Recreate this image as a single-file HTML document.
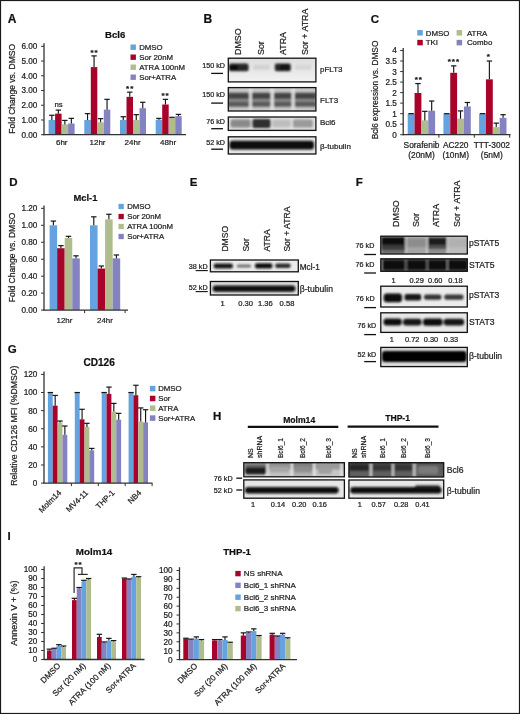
<!DOCTYPE html>
<html><head><meta charset="utf-8"><title>Figure</title>
<style>text{stroke:#1c1c1c;stroke-width:.22px}html,body{margin:0;padding:0;background:#fff;width:520px;height:714px;overflow:hidden}svg{display:block}</style>
</head><body>
<svg width="520" height="714" viewBox="0 0 520 714" font-family='"Liberation Sans", Arial, Helvetica, sans-serif'>
<defs><filter id="bl1" x="-20%" y="-50%" width="140%" height="200%"><feGaussianBlur stdDeviation="0.8"/></filter><filter id="bl2" x="-20%" y="-50%" width="140%" height="200%"><feGaussianBlur stdDeviation="1.4"/></filter></defs>
<rect x="0" y="0" width="520" height="714" fill="#fff"/>
<text x="7.8" y="23" font-size="12" text-anchor="start" font-weight="bold" fill="#111">A</text>
<text x="115.2" y="37.7" font-size="9.6" text-anchor="middle" font-weight="bold" fill="#111">Bcl6</text>
<text x="14.8" y="88.8" font-size="8.5" text-anchor="middle" fill="#222" transform="rotate(-90 14.8 88.8)">Fold Change vs. DMSO</text>
<line x1="44" y1="43.2" x2="44" y2="135.2" stroke="#333" stroke-width="1.3"/>
<line x1="41" y1="134.7" x2="44" y2="134.7" stroke="#333" stroke-width="1"/>
<text x="37.4" y="137.65" font-size="8.2" text-anchor="end" fill="#222">0.00</text>
<line x1="41" y1="119.97" x2="44" y2="119.97" stroke="#333" stroke-width="1"/>
<text x="37.4" y="122.92" font-size="8.2" text-anchor="end" fill="#222">1.00</text>
<line x1="41" y1="105.24" x2="44" y2="105.24" stroke="#333" stroke-width="1"/>
<text x="37.4" y="108.19" font-size="8.2" text-anchor="end" fill="#222">2.00</text>
<line x1="41" y1="90.51" x2="44" y2="90.51" stroke="#333" stroke-width="1"/>
<text x="37.4" y="93.46" font-size="8.2" text-anchor="end" fill="#222">3.00</text>
<line x1="41" y1="75.78" x2="44" y2="75.78" stroke="#333" stroke-width="1"/>
<text x="37.4" y="78.73" font-size="8.2" text-anchor="end" fill="#222">4.00</text>
<line x1="41" y1="61.05" x2="44" y2="61.05" stroke="#333" stroke-width="1"/>
<text x="37.4" y="64" font-size="8.2" text-anchor="end" fill="#222">5.00</text>
<line x1="41" y1="46.32" x2="44" y2="46.32" stroke="#333" stroke-width="1"/>
<text x="37.4" y="49.27" font-size="8.2" text-anchor="end" fill="#222">6.00</text>
<rect x="48.6" y="119.97" width="6.5" height="14.73" fill="#64a2e0"/>
<rect x="55.1" y="113.64" width="6.5" height="21.06" fill="#a8042b"/>
<rect x="61.6" y="124.39" width="6.5" height="10.31" fill="#afbd8e"/>
<rect x="68.1" y="123.51" width="6.5" height="11.19" fill="#8582c2"/>
<rect x="84.3" y="119.97" width="6.5" height="14.73" fill="#64a2e0"/>
<rect x="90.8" y="67.09" width="6.5" height="67.61" fill="#a8042b"/>
<rect x="97.3" y="122.33" width="6.5" height="12.37" fill="#afbd8e"/>
<rect x="103.8" y="109.66" width="6.5" height="25.04" fill="#8582c2"/>
<rect x="120" y="119.97" width="6.5" height="14.73" fill="#64a2e0"/>
<rect x="126.5" y="96.84" width="6.5" height="37.86" fill="#a8042b"/>
<rect x="133" y="119.97" width="6.5" height="14.73" fill="#afbd8e"/>
<rect x="139.5" y="108.19" width="6.5" height="26.51" fill="#8582c2"/>
<rect x="155.7" y="119.68" width="6.5" height="15.02" fill="#64a2e0"/>
<rect x="162.2" y="104.5" width="6.5" height="30.2" fill="#a8042b"/>
<rect x="168.7" y="117.32" width="6.5" height="17.38" fill="#afbd8e"/>
<rect x="175.2" y="116.14" width="6.5" height="18.56" fill="#8582c2"/>
<line x1="51.85" y1="119.97" x2="51.85" y2="115.26" stroke="#161618" stroke-width="1.15"/>
<line x1="49.15" y1="115.26" x2="54.55" y2="115.26" stroke="#161618" stroke-width="1.2"/>
<line x1="58.35" y1="113.64" x2="58.35" y2="110.1" stroke="#161618" stroke-width="1.15"/>
<line x1="55.65" y1="110.1" x2="61.05" y2="110.1" stroke="#161618" stroke-width="1.2"/>
<line x1="64.85" y1="124.39" x2="64.85" y2="120.41" stroke="#161618" stroke-width="1.15"/>
<line x1="62.15" y1="120.41" x2="67.55" y2="120.41" stroke="#161618" stroke-width="1.2"/>
<line x1="71.35" y1="123.51" x2="71.35" y2="118.35" stroke="#161618" stroke-width="1.15"/>
<line x1="68.65" y1="118.35" x2="74.05" y2="118.35" stroke="#161618" stroke-width="1.2"/>
<line x1="87.55" y1="119.97" x2="87.55" y2="113.64" stroke="#161618" stroke-width="1.15"/>
<line x1="84.85" y1="113.64" x2="90.25" y2="113.64" stroke="#161618" stroke-width="1.2"/>
<line x1="94.05" y1="67.09" x2="94.05" y2="55.89" stroke="#161618" stroke-width="1.15"/>
<line x1="91.35" y1="55.89" x2="96.75" y2="55.89" stroke="#161618" stroke-width="1.2"/>
<line x1="100.55" y1="122.33" x2="100.55" y2="118.64" stroke="#161618" stroke-width="1.15"/>
<line x1="97.85" y1="118.64" x2="103.25" y2="118.64" stroke="#161618" stroke-width="1.2"/>
<line x1="107.05" y1="109.66" x2="107.05" y2="99.35" stroke="#161618" stroke-width="1.15"/>
<line x1="104.35" y1="99.35" x2="109.75" y2="99.35" stroke="#161618" stroke-width="1.2"/>
<line x1="123.25" y1="119.97" x2="123.25" y2="116.73" stroke="#161618" stroke-width="1.15"/>
<line x1="120.55" y1="116.73" x2="125.95" y2="116.73" stroke="#161618" stroke-width="1.2"/>
<line x1="129.75" y1="96.84" x2="129.75" y2="92.13" stroke="#161618" stroke-width="1.15"/>
<line x1="127.05" y1="92.13" x2="132.45" y2="92.13" stroke="#161618" stroke-width="1.2"/>
<line x1="136.25" y1="119.97" x2="136.25" y2="114.67" stroke="#161618" stroke-width="1.15"/>
<line x1="133.55" y1="114.67" x2="138.95" y2="114.67" stroke="#161618" stroke-width="1.2"/>
<line x1="142.75" y1="108.19" x2="142.75" y2="102.29" stroke="#161618" stroke-width="1.15"/>
<line x1="140.05" y1="102.29" x2="145.45" y2="102.29" stroke="#161618" stroke-width="1.2"/>
<line x1="158.95" y1="119.68" x2="158.95" y2="118.35" stroke="#161618" stroke-width="1.15"/>
<line x1="156.25" y1="118.35" x2="161.65" y2="118.35" stroke="#161618" stroke-width="1.2"/>
<line x1="165.45" y1="104.5" x2="165.45" y2="99.35" stroke="#161618" stroke-width="1.15"/>
<line x1="162.75" y1="99.35" x2="168.15" y2="99.35" stroke="#161618" stroke-width="1.2"/>
<line x1="169.25" y1="117.32" x2="174.65" y2="117.32" stroke="#161618" stroke-width="1.2"/>
<line x1="178.45" y1="116.14" x2="178.45" y2="114.37" stroke="#161618" stroke-width="1.15"/>
<line x1="175.75" y1="114.37" x2="181.15" y2="114.37" stroke="#161618" stroke-width="1.2"/>
<line x1="43.4" y1="134.7" x2="186" y2="134.7" stroke="#333" stroke-width="1.3"/>
<text x="58.6" y="106.5" font-size="7.8" text-anchor="middle" fill="#222">ns</text>
<text x="94.5" y="54.8" font-size="8" font-weight="bold" text-anchor="middle" letter-spacing="1" fill="#111">**</text>
<text x="130.2" y="90.9" font-size="8" font-weight="bold" text-anchor="middle" letter-spacing="1" fill="#111">**</text>
<text x="165.5" y="97.7" font-size="8" font-weight="bold" text-anchor="middle" letter-spacing="1" fill="#111">**</text>
<text x="61.75" y="145" font-size="8" text-anchor="middle" fill="#222">6hr</text>
<text x="97.5" y="145" font-size="8" text-anchor="middle" fill="#222">12hr</text>
<text x="132.6" y="145" font-size="8" text-anchor="middle" fill="#222">24hr</text>
<text x="168.1" y="145" font-size="8" text-anchor="middle" fill="#222">48hr</text>
<rect x="130.5" y="44.5" width="5.4" height="5.4" fill="#64a2e0"/>
<text x="139.2" y="50.01" font-size="7.8" text-anchor="start" fill="#222">DMSO</text>
<rect x="130.5" y="54.5" width="5.4" height="5.4" fill="#a8042b"/>
<text x="139.2" y="60.01" font-size="7.8" text-anchor="start" fill="#222">Sor 20nM</text>
<rect x="130.5" y="64.5" width="5.4" height="5.4" fill="#afbd8e"/>
<text x="139.2" y="70.01" font-size="7.8" text-anchor="start" fill="#222">ATRA 100nM</text>
<rect x="130.5" y="74.5" width="5.4" height="5.4" fill="#8582c2"/>
<text x="139.2" y="80.01" font-size="7.8" text-anchor="start" fill="#222">Sor+ATRA</text>
<text x="203.4" y="23" font-size="12" text-anchor="start" font-weight="bold" fill="#111">B</text>
<text x="241.2" y="55" font-size="8.9" text-anchor="start" fill="#222" transform="rotate(-90 241.2 55)">DMSO</text>
<text x="263.5" y="55" font-size="8.9" text-anchor="start" fill="#222" transform="rotate(-90 263.5 55)">Sor</text>
<text x="286" y="55" font-size="8.9" text-anchor="start" fill="#222" transform="rotate(-90 286 55)">ATRA</text>
<text x="307.5" y="55" font-size="8.9" text-anchor="start" fill="#222" transform="rotate(-90 307.5 55)">Sor + ATRA</text>
<clipPath id="c1"><rect x="228.3" y="58.2" width="87.6" height="23.7"/></clipPath>
<g clip-path="url(#c1)">
<linearGradient id="g1" x1="0" y1="0" x2="0" y2="1"><stop offset="0" stop-color="#dedede"/><stop offset="0.45" stop-color="#e6e6e6"/><stop offset="1" stop-color="#f2f2f2"/></linearGradient>
<rect x="228.3" y="58.2" width="87.6" height="23.7" fill="url(#g1)"/>
<g filter="url(#bl1)">
<rect x="229" y="63.6" width="19.5" height="7.6" rx="2" fill="#262626"/>
<rect x="229" y="64.5" width="9" height="5.5" rx="2" fill="#101010"/>
<rect x="253" y="64.8" width="17" height="5" rx="2" fill="#d2d2d2"/>
<rect x="274.8" y="63.6" width="16" height="7.6" rx="2" fill="#262626"/>
<rect x="280" y="64.5" width="9" height="5.5" rx="2" fill="#141414"/>
<rect x="295" y="64.8" width="16.5" height="5" rx="2" fill="#d6d6d6"/>
</g></g>
<rect x="228.3" y="58.2" width="87.6" height="23.7" fill="none" stroke="#111" stroke-width="1.3"/>
<clipPath id="c2"><rect x="228.3" y="87.6" width="87.6" height="23.4"/></clipPath>
<g clip-path="url(#c2)">
<rect x="228.3" y="87.6" width="87.6" height="23.4" fill="#c6c6c6"/>
<g filter="url(#bl1)">
<rect x="228" y="92.8" width="88" height="6.6" rx="1" fill="#444444"/>
<rect x="228" y="101.2" width="88" height="5.6" rx="1" fill="#5a5a5a"/>
<rect x="228" y="99" width="88" height="2.5" rx="0" fill="#8a8a8a"/>
<rect x="249.2" y="87.6" width="2.6" height="23.4" fill="#e2e2e2"/>
<rect x="270.6" y="87.6" width="3.2" height="23.4" fill="#e2e2e2"/>
<rect x="291.6" y="87.6" width="3" height="23.4" fill="#e2e2e2"/>
</g></g>
<rect x="228.3" y="87.6" width="87.6" height="23.4" fill="none" stroke="#111" stroke-width="1.3"/>
<clipPath id="c3"><rect x="228.3" y="117" width="87.6" height="13.4"/></clipPath>
<g clip-path="url(#c3)">
<rect x="228.3" y="117" width="87.6" height="13.4" fill="#dedede"/>
<g filter="url(#bl1)">
<rect x="230.5" y="119.4" width="20.1" height="8.2" rx="2" fill="#8a8a8a"/>
<rect x="252.4" y="119" width="18.2" height="9" rx="2" fill="#2e2e2e"/>
<rect x="272.2" y="119.8" width="18.6" height="7.4" rx="2" fill="#bdbdbd"/>
<rect x="293" y="119.4" width="19.8" height="8.2" rx="2" fill="#9a9a9a"/>
</g></g>
<rect x="228.3" y="117" width="87.6" height="13.4" fill="none" stroke="#111" stroke-width="1.3"/>
<clipPath id="c4"><rect x="228.3" y="136.8" width="87.6" height="17.2"/></clipPath>
<g clip-path="url(#c4)">
<rect x="228.3" y="136.8" width="87.6" height="17.2" fill="#e6e6e6"/>
<g filter="url(#bl1)">
<rect x="229.5" y="140.8" width="84.5" height="8.8" rx="3" fill="#0a0a0a"/>
</g></g>
<rect x="228.3" y="136.8" width="87.6" height="17.2" fill="none" stroke="#111" stroke-width="1.3"/>
<text x="225" y="67.6" font-size="7.2" text-anchor="end" fill="#222">150 kD</text>
<line x1="211.2" y1="73.4" x2="223" y2="73.4" stroke="#111" stroke-width="1.3"/>
<text x="225" y="97.3" font-size="7.2" text-anchor="end" fill="#222">150 kD</text>
<line x1="211.2" y1="103.1" x2="223" y2="103.1" stroke="#111" stroke-width="1.3"/>
<text x="225" y="123.7" font-size="7.2" text-anchor="end" fill="#222">76 kD</text>
<line x1="211.2" y1="128.7" x2="223" y2="128.7" stroke="#111" stroke-width="1.3"/>
<text x="225" y="144.6" font-size="7.2" text-anchor="end" fill="#222">52 kD</text>
<line x1="211.2" y1="149.2" x2="223" y2="149.2" stroke="#111" stroke-width="1.3"/>
<text x="320" y="71.9" font-size="8" text-anchor="start" fill="#222">pFLT3</text>
<text x="320" y="102.7" font-size="8" text-anchor="start" fill="#222">FLT3</text>
<text x="320" y="125.4" font-size="8" text-anchor="start" fill="#222">Bcl6</text>
<text x="320" y="148.8" font-size="8" text-anchor="start" fill="#222">β-tubulin</text>
<text x="370.7" y="23" font-size="11.5" text-anchor="start" font-weight="bold" fill="#111">C</text>
<text x="378.2" y="90" font-size="8.3" text-anchor="middle" fill="#222" transform="rotate(-90 378.2 90)">Bcl6 expression vs. DMSO</text>
<line x1="403.2" y1="47.9" x2="403.2" y2="135.2" stroke="#333" stroke-width="1.3"/>
<line x1="400.2" y1="134.7" x2="403.2" y2="134.7" stroke="#333" stroke-width="1"/>
<text x="396.9" y="137.65" font-size="8.2" text-anchor="end" fill="#222">0</text>
<line x1="400.2" y1="124.17" x2="403.2" y2="124.17" stroke="#333" stroke-width="1"/>
<text x="396.9" y="127.13" font-size="8.2" text-anchor="end" fill="#222">0.5</text>
<line x1="400.2" y1="113.65" x2="403.2" y2="113.65" stroke="#333" stroke-width="1"/>
<text x="396.9" y="116.6" font-size="8.2" text-anchor="end" fill="#222">1</text>
<line x1="400.2" y1="103.12" x2="403.2" y2="103.12" stroke="#333" stroke-width="1"/>
<text x="396.9" y="106.08" font-size="8.2" text-anchor="end" fill="#222">1.5</text>
<line x1="400.2" y1="92.6" x2="403.2" y2="92.6" stroke="#333" stroke-width="1"/>
<text x="396.9" y="95.55" font-size="8.2" text-anchor="end" fill="#222">2</text>
<line x1="400.2" y1="82.07" x2="403.2" y2="82.07" stroke="#333" stroke-width="1"/>
<text x="396.9" y="85.03" font-size="8.2" text-anchor="end" fill="#222">2.5</text>
<line x1="400.2" y1="71.55" x2="403.2" y2="71.55" stroke="#333" stroke-width="1"/>
<text x="396.9" y="74.5" font-size="8.2" text-anchor="end" fill="#222">3</text>
<line x1="400.2" y1="61.02" x2="403.2" y2="61.02" stroke="#333" stroke-width="1"/>
<text x="396.9" y="63.98" font-size="8.2" text-anchor="end" fill="#222">3.5</text>
<line x1="400.2" y1="50.5" x2="403.2" y2="50.5" stroke="#333" stroke-width="1"/>
<text x="396.9" y="53.45" font-size="8.2" text-anchor="end" fill="#222">4</text>
<rect x="407.7" y="113.65" width="6.85" height="21.05" fill="#64a2e0"/>
<rect x="414.55" y="93.02" width="6.85" height="41.68" fill="#a8042b"/>
<rect x="421.4" y="120.39" width="6.85" height="14.31" fill="#afbd8e"/>
<rect x="428.25" y="110.7" width="6.85" height="24" fill="#8582c2"/>
<rect x="443.4" y="113.65" width="6.85" height="21.05" fill="#64a2e0"/>
<rect x="450.25" y="72.81" width="6.85" height="61.89" fill="#a8042b"/>
<rect x="457.1" y="118.7" width="6.85" height="16" fill="#afbd8e"/>
<rect x="463.95" y="106.49" width="6.85" height="28.21" fill="#8582c2"/>
<rect x="479.1" y="113.65" width="6.85" height="21.05" fill="#64a2e0"/>
<rect x="485.95" y="79.34" width="6.85" height="55.36" fill="#a8042b"/>
<rect x="492.8" y="127.12" width="6.85" height="7.58" fill="#afbd8e"/>
<rect x="499.65" y="117.86" width="6.85" height="16.84" fill="#8582c2"/>
<line x1="408.43" y1="113.65" x2="413.82" y2="113.65" stroke="#161618" stroke-width="1.2"/>
<line x1="417.98" y1="93.02" x2="417.98" y2="83.55" stroke="#161618" stroke-width="1.15"/>
<line x1="415.28" y1="83.55" x2="420.68" y2="83.55" stroke="#161618" stroke-width="1.2"/>
<line x1="424.82" y1="120.39" x2="424.82" y2="111.33" stroke="#161618" stroke-width="1.15"/>
<line x1="422.12" y1="111.33" x2="427.52" y2="111.33" stroke="#161618" stroke-width="1.2"/>
<line x1="431.68" y1="110.7" x2="431.68" y2="101.02" stroke="#161618" stroke-width="1.15"/>
<line x1="428.98" y1="101.02" x2="434.38" y2="101.02" stroke="#161618" stroke-width="1.2"/>
<line x1="444.12" y1="113.65" x2="449.52" y2="113.65" stroke="#161618" stroke-width="1.2"/>
<line x1="453.68" y1="72.81" x2="453.68" y2="65.87" stroke="#161618" stroke-width="1.15"/>
<line x1="450.98" y1="65.87" x2="456.38" y2="65.87" stroke="#161618" stroke-width="1.2"/>
<line x1="460.52" y1="118.7" x2="460.52" y2="110.91" stroke="#161618" stroke-width="1.15"/>
<line x1="457.82" y1="110.91" x2="463.22" y2="110.91" stroke="#161618" stroke-width="1.2"/>
<line x1="467.38" y1="106.49" x2="467.38" y2="102.49" stroke="#161618" stroke-width="1.15"/>
<line x1="464.68" y1="102.49" x2="470.07" y2="102.49" stroke="#161618" stroke-width="1.2"/>
<line x1="479.83" y1="113.65" x2="485.23" y2="113.65" stroke="#161618" stroke-width="1.2"/>
<line x1="489.38" y1="79.34" x2="489.38" y2="61.02" stroke="#161618" stroke-width="1.15"/>
<line x1="486.68" y1="61.02" x2="492.08" y2="61.02" stroke="#161618" stroke-width="1.2"/>
<line x1="496.23" y1="127.12" x2="496.23" y2="123.12" stroke="#161618" stroke-width="1.15"/>
<line x1="493.53" y1="123.12" x2="498.93" y2="123.12" stroke="#161618" stroke-width="1.2"/>
<line x1="503.08" y1="117.86" x2="503.08" y2="114.7" stroke="#161618" stroke-width="1.15"/>
<line x1="500.38" y1="114.7" x2="505.78" y2="114.7" stroke="#161618" stroke-width="1.2"/>
<line x1="402.6" y1="134.7" x2="510.5" y2="134.7" stroke="#333" stroke-width="1.3"/>
<line x1="438.9" y1="134.7" x2="438.9" y2="137.7" stroke="#333" stroke-width="1"/>
<line x1="474.3" y1="134.7" x2="474.3" y2="137.7" stroke="#333" stroke-width="1"/>
<line x1="509.7" y1="134.7" x2="509.7" y2="137.7" stroke="#333" stroke-width="1"/>
<text x="418.8" y="81.7" font-size="8" font-weight="bold" text-anchor="middle" letter-spacing="1" fill="#111">**</text>
<text x="453.9" y="64" font-size="8" font-weight="bold" text-anchor="middle" letter-spacing="1" fill="#111">***</text>
<text x="488.9" y="58.9" font-size="8" font-weight="bold" text-anchor="middle" letter-spacing="1" fill="#111">*</text>
<text x="421.5" y="148.2" font-size="8.4" text-anchor="middle" fill="#222">Sorafenib</text>
<text x="421.5" y="158.4" font-size="8.4" text-anchor="middle" fill="#222">(20nM)</text>
<text x="455.7" y="148.2" font-size="8.4" text-anchor="middle" fill="#222">AC220</text>
<text x="455.7" y="158.4" font-size="8.4" text-anchor="middle" fill="#222">(10nM)</text>
<text x="491.8" y="148.2" font-size="8.4" text-anchor="middle" fill="#222">TTT-3002</text>
<text x="491.8" y="158.4" font-size="8.4" text-anchor="middle" fill="#222">(5nM)</text>
<rect x="417.3" y="30.05" width="5.5" height="5.5" fill="#64a2e0"/>
<text x="425.7" y="35.64" font-size="7.9" text-anchor="start" fill="#222">DMSO</text>
<rect x="417.3" y="39.85" width="5.5" height="5.5" fill="#a8042b"/>
<text x="425.7" y="45.44" font-size="7.9" text-anchor="start" fill="#222">TKI</text>
<rect x="456.6" y="30.05" width="5.5" height="5.5" fill="#afbd8e"/>
<text x="466.9" y="35.64" font-size="7.9" text-anchor="start" fill="#222">ATRA</text>
<rect x="456.6" y="39.85" width="5.5" height="5.5" fill="#8582c2"/>
<text x="466.9" y="45.44" font-size="7.9" text-anchor="start" fill="#222">Combo</text>
<text x="9.3" y="186.4" font-size="11.5" text-anchor="start" font-weight="bold" fill="#111">D</text>
<text x="85.4" y="200.7" font-size="9.4" text-anchor="middle" font-weight="bold" fill="#111">Mcl-1</text>
<text x="14.8" y="257.4" font-size="8.5" text-anchor="middle" fill="#222" transform="rotate(-90 14.8 257.4)">Fold Change vs. DMSO</text>
<line x1="44" y1="205.6" x2="44" y2="310.6" stroke="#333" stroke-width="1.3"/>
<line x1="41" y1="310.1" x2="44" y2="310.1" stroke="#333" stroke-width="1"/>
<text x="37.4" y="313.05" font-size="8.2" text-anchor="end" fill="#222">0.00</text>
<line x1="41" y1="293.14" x2="44" y2="293.14" stroke="#333" stroke-width="1"/>
<text x="37.4" y="296.09" font-size="8.2" text-anchor="end" fill="#222">0.20</text>
<line x1="41" y1="276.18" x2="44" y2="276.18" stroke="#333" stroke-width="1"/>
<text x="37.4" y="279.13" font-size="8.2" text-anchor="end" fill="#222">0.40</text>
<line x1="41" y1="259.22" x2="44" y2="259.22" stroke="#333" stroke-width="1"/>
<text x="37.4" y="262.17" font-size="8.2" text-anchor="end" fill="#222">0.60</text>
<line x1="41" y1="242.26" x2="44" y2="242.26" stroke="#333" stroke-width="1"/>
<text x="37.4" y="245.21" font-size="8.2" text-anchor="end" fill="#222">0.80</text>
<line x1="41" y1="225.3" x2="44" y2="225.3" stroke="#333" stroke-width="1"/>
<text x="37.4" y="228.25" font-size="8.2" text-anchor="end" fill="#222">1.00</text>
<line x1="41" y1="208.34" x2="44" y2="208.34" stroke="#333" stroke-width="1"/>
<text x="37.4" y="211.29" font-size="8.2" text-anchor="end" fill="#222">1.20</text>
<rect x="49.6" y="225.3" width="7.55" height="84.8" fill="#64a2e0"/>
<rect x="57.15" y="248.2" width="7.55" height="61.9" fill="#a8042b"/>
<rect x="64.7" y="238.02" width="7.55" height="72.08" fill="#afbd8e"/>
<rect x="72.25" y="258.37" width="7.55" height="51.73" fill="#8582c2"/>
<rect x="90" y="225.3" width="7.55" height="84.8" fill="#64a2e0"/>
<rect x="97.55" y="268.55" width="7.55" height="41.55" fill="#a8042b"/>
<rect x="105.1" y="219.36" width="7.55" height="90.74" fill="#afbd8e"/>
<rect x="112.65" y="258.37" width="7.55" height="51.73" fill="#8582c2"/>
<line x1="53.38" y1="225.3" x2="53.38" y2="221.06" stroke="#161618" stroke-width="1.15"/>
<line x1="50.67" y1="221.06" x2="56.08" y2="221.06" stroke="#161618" stroke-width="1.2"/>
<line x1="60.92" y1="248.2" x2="60.92" y2="245.65" stroke="#161618" stroke-width="1.15"/>
<line x1="58.22" y1="245.65" x2="63.62" y2="245.65" stroke="#161618" stroke-width="1.2"/>
<line x1="68.48" y1="238.02" x2="68.48" y2="236.32" stroke="#161618" stroke-width="1.15"/>
<line x1="65.78" y1="236.32" x2="71.18" y2="236.32" stroke="#161618" stroke-width="1.2"/>
<line x1="76.03" y1="258.37" x2="76.03" y2="255.83" stroke="#161618" stroke-width="1.15"/>
<line x1="73.33" y1="255.83" x2="78.73" y2="255.83" stroke="#161618" stroke-width="1.2"/>
<line x1="93.78" y1="225.3" x2="93.78" y2="216.82" stroke="#161618" stroke-width="1.15"/>
<line x1="91.08" y1="216.82" x2="96.48" y2="216.82" stroke="#161618" stroke-width="1.2"/>
<line x1="101.33" y1="268.55" x2="101.33" y2="266" stroke="#161618" stroke-width="1.15"/>
<line x1="98.62" y1="266" x2="104.03" y2="266" stroke="#161618" stroke-width="1.2"/>
<line x1="108.88" y1="219.36" x2="108.88" y2="214.28" stroke="#161618" stroke-width="1.15"/>
<line x1="106.17" y1="214.28" x2="111.58" y2="214.28" stroke="#161618" stroke-width="1.2"/>
<line x1="116.43" y1="258.37" x2="116.43" y2="254.98" stroke="#161618" stroke-width="1.15"/>
<line x1="113.73" y1="254.98" x2="119.13" y2="254.98" stroke="#161618" stroke-width="1.2"/>
<line x1="43.4" y1="310.1" x2="128" y2="310.1" stroke="#333" stroke-width="1.3"/>
<line x1="84.6" y1="310.1" x2="84.6" y2="313.1" stroke="#333" stroke-width="1"/>
<line x1="125.1" y1="310.1" x2="125.1" y2="313.1" stroke="#333" stroke-width="1"/>
<text x="64.4" y="323.4" font-size="7.9" text-anchor="middle" fill="#222">12hr</text>
<text x="105" y="323.4" font-size="7.9" text-anchor="middle" fill="#222">24hr</text>
<rect x="118.5" y="203.85" width="5.3" height="5.3" fill="#64a2e0"/>
<text x="127.2" y="209.31" font-size="7.8" text-anchor="start" fill="#222">DMSO</text>
<rect x="118.5" y="213.85" width="5.3" height="5.3" fill="#a8042b"/>
<text x="127.2" y="219.31" font-size="7.8" text-anchor="start" fill="#222">Sor 20nM</text>
<rect x="118.5" y="223.85" width="5.3" height="5.3" fill="#afbd8e"/>
<text x="127.2" y="229.31" font-size="7.8" text-anchor="start" fill="#222">ATRA 100nM</text>
<rect x="118.5" y="233.85" width="5.3" height="5.3" fill="#8582c2"/>
<text x="127.2" y="239.31" font-size="7.8" text-anchor="start" fill="#222">Sor+ATRA</text>
<text x="189.8" y="185.5" font-size="11.5" text-anchor="start" font-weight="bold" fill="#111">E</text>
<text x="228.2" y="251.6" font-size="8.6" text-anchor="start" fill="#222" transform="rotate(-90 228.2 251.6)">DMSO</text>
<text x="248.9" y="251.6" font-size="8.6" text-anchor="start" fill="#222" transform="rotate(-90 248.9 251.6)">Sor</text>
<text x="269.7" y="251.6" font-size="8.6" text-anchor="start" fill="#222" transform="rotate(-90 269.7 251.6)">ATRA</text>
<text x="290.4" y="251.6" font-size="8.6" text-anchor="start" fill="#222" transform="rotate(-90 290.4 251.6)">Sor + ATRA</text>
<clipPath id="c5"><rect x="210.4" y="260" width="87.9" height="11.8"/></clipPath>
<g clip-path="url(#c5)">
<rect x="210.4" y="260" width="87.9" height="11.8" fill="#ebebeb"/>
<g filter="url(#bl1)">
<rect x="213.7" y="263.4" width="19.2" height="5" rx="2" fill="#151515"/>
<rect x="236.7" y="264.4" width="14.5" height="3" rx="2" fill="#6e6e6e"/>
<rect x="255" y="263.2" width="17.3" height="5.2" rx="2" fill="#101010"/>
<rect x="275.2" y="263.5" width="15.4" height="4.6" rx="2" fill="#2c2c2c"/>
</g></g>
<rect x="210.4" y="260" width="87.9" height="11.8" fill="none" stroke="#111" stroke-width="1.3"/>
<clipPath id="c6"><rect x="210.4" y="281.5" width="87.9" height="13.5"/></clipPath>
<g clip-path="url(#c6)">
<rect x="210.4" y="281.5" width="87.9" height="13.5" fill="#e0e0e0"/>
<g filter="url(#bl1)">
<rect x="212.7" y="285.5" width="82.7" height="6.2" rx="3" fill="#080808"/>
</g></g>
<rect x="210.4" y="281.5" width="87.9" height="13.5" fill="none" stroke="#111" stroke-width="1.3"/>
<text x="207.6" y="268.5" font-size="7.2" text-anchor="end" fill="#222">38 kD</text>
<text x="207.6" y="289.9" font-size="7.2" text-anchor="end" fill="#222">52 kD</text>
<line x1="195.6" y1="270.6" x2="207.8" y2="270.6" stroke="#111" stroke-width="1.1"/>
<line x1="195.6" y1="291.6" x2="207.8" y2="291.6" stroke="#111" stroke-width="1.1"/>
<text x="299.8" y="269.5" font-size="8.2" text-anchor="start" fill="#222">Mcl-1</text>
<text x="299.8" y="291.8" font-size="8.6" text-anchor="start" fill="#222">β-tubulin</text>
<text x="222.6" y="305.8" font-size="7.6" text-anchor="middle" fill="#222">1</text>
<text x="245.6" y="305.8" font-size="7.6" text-anchor="middle" fill="#222">0.30</text>
<text x="265.4" y="305.8" font-size="7.6" text-anchor="middle" fill="#222">1.36</text>
<text x="287" y="305.8" font-size="7.6" text-anchor="middle" fill="#222">0.58</text>
<text x="355.8" y="185.6" font-size="11.5" text-anchor="start" font-weight="bold" fill="#111">F</text>
<text x="398.8" y="226.9" font-size="8.9" text-anchor="start" fill="#222" transform="rotate(-90 398.8 226.9)">DMSO</text>
<text x="419.2" y="226.9" font-size="8.9" text-anchor="start" fill="#222" transform="rotate(-90 419.2 226.9)">Sor</text>
<text x="439.5" y="226.9" font-size="8.9" text-anchor="start" fill="#222" transform="rotate(-90 439.5 226.9)">ATRA</text>
<text x="460.2" y="226.9" font-size="8.9" text-anchor="start" fill="#222" transform="rotate(-90 460.2 226.9)">Sor + ATRA</text>
<clipPath id="c7"><rect x="380.8" y="236.2" width="86.5" height="17.8"/></clipPath>
<g clip-path="url(#c7)">
<rect x="380.8" y="236.2" width="86.5" height="17.8" fill="#c8c8c8"/>
<g filter="url(#bl1)">
<rect x="381.5" y="236.5" width="24" height="18" rx="0" fill="#6c6c6c"/>
<rect x="381.5" y="237" width="24" height="9" rx="1" fill="#0c0c0c"/>
<rect x="381.5" y="245" width="24" height="5" rx="0" fill="#3a3a3a"/>
<rect x="406.5" y="236.5" width="20" height="18" rx="0" fill="#a4a4a4"/>
<rect x="406.5" y="238.5" width="20" height="8.5" rx="0" fill="#8c8c8c"/>
<rect x="427.5" y="236.5" width="19.3" height="18" rx="0" fill="#8e8e8e"/>
<rect x="427.5" y="237.5" width="19.3" height="8" rx="1" fill="#1c1c1c"/>
<rect x="427.5" y="245" width="19.3" height="4" rx="0" fill="#505050"/>
<rect x="447.8" y="236.5" width="19.2" height="18" rx="0" fill="#bcbcbc"/>
<rect x="447.8" y="238.5" width="19.2" height="8.5" rx="0" fill="#b0b0b0"/>
<rect x="405.4" y="236.2" width="1.2" height="17.8" fill="#dcdcdc"/>
<rect x="426.6" y="236.2" width="1.2" height="17.8" fill="#dcdcdc"/>
<rect x="446.8" y="236.2" width="1.2" height="17.8" fill="#dcdcdc"/>
</g></g>
<rect x="380.8" y="236.2" width="86.5" height="17.8" fill="none" stroke="#111" stroke-width="1.3"/>
<clipPath id="c8"><rect x="380.8" y="258.8" width="86.5" height="12.5"/></clipPath>
<g clip-path="url(#c8)">
<rect x="380.8" y="258.8" width="86.5" height="12.5" fill="#4a4a4a"/>
<g filter="url(#bl1)">
<rect x="381.5" y="260.3" width="85.5" height="9.5" rx="1" fill="#0a0a0a"/>
<rect x="381" y="258.8" width="1.3" height="12.5" fill="#9a9a9a"/>
<rect x="405.4" y="258.8" width="1.1" height="12.5" fill="#9a9a9a"/>
<rect x="426.6" y="258.8" width="1.1" height="12.5" fill="#9a9a9a"/>
<rect x="446.8" y="258.8" width="1.1" height="12.5" fill="#9a9a9a"/>
</g></g>
<rect x="380.8" y="258.8" width="86.5" height="12.5" fill="none" stroke="#111" stroke-width="1.3"/>
<clipPath id="c9"><rect x="380.8" y="286.2" width="86.5" height="20.8"/></clipPath>
<g clip-path="url(#c9)">
<rect x="380.8" y="286.2" width="86.5" height="20.8" fill="#ececec"/>
<g filter="url(#bl1)">
<rect x="383.7" y="293.4" width="18.3" height="8.9" rx="3" fill="#0a0a0a"/>
<rect x="404.5" y="294" width="16.7" height="6.6" rx="2" fill="#151515"/>
<rect x="424" y="294.6" width="17.4" height="5.2" rx="2" fill="#333333"/>
<rect x="444.3" y="294.6" width="19.2" height="5.2" rx="2" fill="#393939"/>
</g></g>
<rect x="380.8" y="286.2" width="86.5" height="20.8" fill="none" stroke="#111" stroke-width="1.3"/>
<clipPath id="c10"><rect x="380.8" y="312.8" width="86.5" height="19.6"/></clipPath>
<g clip-path="url(#c10)">
<rect x="380.8" y="312.8" width="86.5" height="19.6" fill="#e8e8e8"/>
<g filter="url(#bl1)">
<rect x="383.5" y="318.4" width="18.3" height="7.2" rx="3" fill="#0e0e0e"/>
<rect x="403" y="318.8" width="18.6" height="6.6" rx="3" fill="#141414"/>
<rect x="423" y="318.4" width="19.6" height="7.4" rx="3" fill="#0e0e0e"/>
<rect x="443.6" y="318.8" width="20.6" height="6.8" rx="3" fill="#161616"/>
</g></g>
<rect x="380.8" y="312.8" width="86.5" height="19.6" fill="none" stroke="#111" stroke-width="1.3"/>
<clipPath id="c11"><rect x="380.8" y="347.4" width="86.5" height="19.2"/></clipPath>
<g clip-path="url(#c11)">
<rect x="380.8" y="347.4" width="86.5" height="19.2" fill="#dcdcdc"/>
<g filter="url(#bl1)">
<rect x="382" y="351" width="84.5" height="11" rx="3" fill="#060606"/>
</g></g>
<rect x="380.8" y="347.4" width="86.5" height="19.2" fill="none" stroke="#111" stroke-width="1.3"/>
<text x="374.4" y="248.4" font-size="7.2" text-anchor="end" fill="#222">76 kD</text>
<line x1="364.2" y1="254.5" x2="376" y2="254.5" stroke="#111" stroke-width="1.3"/>
<text x="374.4" y="267.1" font-size="7.2" text-anchor="end" fill="#222">76 kD</text>
<line x1="364.2" y1="273" x2="376" y2="273" stroke="#111" stroke-width="1.3"/>
<text x="374.6" y="300.9" font-size="7.2" text-anchor="end" fill="#222">76 kD</text>
<line x1="364.2" y1="307.6" x2="376" y2="307.6" stroke="#111" stroke-width="1.3"/>
<text x="376.3" y="327.5" font-size="7.2" text-anchor="end" fill="#222">76 kD</text>
<line x1="364.2" y1="334.6" x2="376" y2="334.6" stroke="#111" stroke-width="1.3"/>
<text x="376.3" y="356.9" font-size="7.2" text-anchor="end" fill="#222">52 kD</text>
<line x1="364.2" y1="361.6" x2="376" y2="361.6" stroke="#111" stroke-width="1.3"/>
<text x="469" y="245.6" font-size="8.6" text-anchor="start" fill="#222">pSTAT5</text>
<text x="469" y="268.4" font-size="8.6" text-anchor="start" fill="#222">STAT5</text>
<text x="469" y="298.1" font-size="8.6" text-anchor="start" fill="#222">pSTAT3</text>
<text x="469" y="325.1" font-size="8.6" text-anchor="start" fill="#222">STAT3</text>
<text x="469" y="358.7" font-size="8.6" text-anchor="start" fill="#222">β-tubulin</text>
<text x="393.6" y="282.6" font-size="7.4" text-anchor="middle" fill="#222">1</text>
<text x="416.6" y="282.6" font-size="7.4" text-anchor="middle" fill="#222">0.29</text>
<text x="435.3" y="282.6" font-size="7.4" text-anchor="middle" fill="#222">0.60</text>
<text x="455.4" y="282.6" font-size="7.4" text-anchor="middle" fill="#222">0.18</text>
<text x="391.8" y="342.4" font-size="7.4" text-anchor="middle" fill="#222">1</text>
<text x="412.2" y="342.4" font-size="7.4" text-anchor="middle" fill="#222">0.72</text>
<text x="431" y="342.4" font-size="7.4" text-anchor="middle" fill="#222">0.30</text>
<text x="451" y="342.4" font-size="7.4" text-anchor="middle" fill="#222">0.33</text>
<text x="7.8" y="352.6" font-size="11.5" text-anchor="start" font-weight="bold" fill="#111">G</text>
<text x="99.1" y="365.5" font-size="10.1" text-anchor="middle" font-weight="bold" fill="#111">CD126</text>
<text x="17.2" y="425.7" font-size="8.7" text-anchor="middle" fill="#222" transform="rotate(-90 17.2 425.7)">Relative CD126 MFI (%DMSO)</text>
<line x1="44" y1="371.4" x2="44" y2="483.6" stroke="#333" stroke-width="1.3"/>
<line x1="41" y1="483.1" x2="44" y2="483.1" stroke="#333" stroke-width="1"/>
<text x="37.4" y="486.05" font-size="8.2" text-anchor="end" fill="#222">0</text>
<line x1="41" y1="464.98" x2="44" y2="464.98" stroke="#333" stroke-width="1"/>
<text x="37.4" y="467.94" font-size="8.2" text-anchor="end" fill="#222">20</text>
<line x1="41" y1="446.87" x2="44" y2="446.87" stroke="#333" stroke-width="1"/>
<text x="37.4" y="449.82" font-size="8.2" text-anchor="end" fill="#222">40</text>
<line x1="41" y1="428.75" x2="44" y2="428.75" stroke="#333" stroke-width="1"/>
<text x="37.4" y="431.7" font-size="8.2" text-anchor="end" fill="#222">60</text>
<line x1="41" y1="410.64" x2="44" y2="410.64" stroke="#333" stroke-width="1"/>
<text x="37.4" y="413.59" font-size="8.2" text-anchor="end" fill="#222">80</text>
<line x1="41" y1="392.52" x2="44" y2="392.52" stroke="#333" stroke-width="1"/>
<text x="37.4" y="395.47" font-size="8.2" text-anchor="end" fill="#222">100</text>
<line x1="41" y1="374.4" x2="44" y2="374.4" stroke="#333" stroke-width="1"/>
<text x="37.4" y="377.36" font-size="8.2" text-anchor="end" fill="#222">120</text>
<rect x="47.9" y="392.52" width="4.85" height="90.58" fill="#64a2e0"/>
<rect x="52.75" y="405.65" width="4.85" height="77.45" fill="#a8042b"/>
<rect x="57.6" y="422.59" width="4.85" height="60.51" fill="#afbd8e"/>
<rect x="62.45" y="434.82" width="4.85" height="48.28" fill="#8582c2"/>
<rect x="74.8" y="392.52" width="4.85" height="90.58" fill="#64a2e0"/>
<rect x="79.65" y="419.33" width="4.85" height="63.77" fill="#a8042b"/>
<rect x="84.5" y="426.94" width="4.85" height="56.16" fill="#afbd8e"/>
<rect x="89.35" y="450.31" width="4.85" height="32.79" fill="#8582c2"/>
<rect x="101.7" y="392.52" width="4.85" height="90.58" fill="#64a2e0"/>
<rect x="106.55" y="393.88" width="4.85" height="89.22" fill="#a8042b"/>
<rect x="111.4" y="411.54" width="4.85" height="71.56" fill="#afbd8e"/>
<rect x="116.25" y="419.69" width="4.85" height="63.41" fill="#8582c2"/>
<rect x="128.6" y="392.52" width="4.85" height="90.58" fill="#64a2e0"/>
<rect x="133.45" y="395.24" width="4.85" height="87.86" fill="#a8042b"/>
<rect x="138.3" y="421.51" width="4.85" height="61.59" fill="#afbd8e"/>
<rect x="143.15" y="422.41" width="4.85" height="60.69" fill="#8582c2"/>
<line x1="47.62" y1="392.52" x2="53.02" y2="392.52" stroke="#161618" stroke-width="1.2"/>
<line x1="55.17" y1="405.65" x2="55.17" y2="395.42" stroke="#161618" stroke-width="1.15"/>
<line x1="52.47" y1="395.42" x2="57.88" y2="395.42" stroke="#161618" stroke-width="1.2"/>
<line x1="60.02" y1="422.59" x2="60.02" y2="421.05" stroke="#161618" stroke-width="1.15"/>
<line x1="57.32" y1="421.05" x2="62.72" y2="421.05" stroke="#161618" stroke-width="1.2"/>
<line x1="64.88" y1="434.82" x2="64.88" y2="426.03" stroke="#161618" stroke-width="1.15"/>
<line x1="62.17" y1="426.03" x2="67.58" y2="426.03" stroke="#161618" stroke-width="1.2"/>
<line x1="74.52" y1="392.52" x2="79.92" y2="392.52" stroke="#161618" stroke-width="1.2"/>
<line x1="82.07" y1="419.33" x2="82.07" y2="409.28" stroke="#161618" stroke-width="1.15"/>
<line x1="79.37" y1="409.28" x2="84.77" y2="409.28" stroke="#161618" stroke-width="1.2"/>
<line x1="86.92" y1="426.94" x2="86.92" y2="423.32" stroke="#161618" stroke-width="1.15"/>
<line x1="84.22" y1="423.32" x2="89.62" y2="423.32" stroke="#161618" stroke-width="1.2"/>
<line x1="91.77" y1="450.31" x2="91.77" y2="448.41" stroke="#161618" stroke-width="1.15"/>
<line x1="89.07" y1="448.41" x2="94.47" y2="448.41" stroke="#161618" stroke-width="1.2"/>
<line x1="101.42" y1="392.52" x2="106.83" y2="392.52" stroke="#161618" stroke-width="1.2"/>
<line x1="108.97" y1="393.88" x2="108.97" y2="387.09" stroke="#161618" stroke-width="1.15"/>
<line x1="106.27" y1="387.09" x2="111.67" y2="387.09" stroke="#161618" stroke-width="1.2"/>
<line x1="113.83" y1="411.54" x2="113.83" y2="403.39" stroke="#161618" stroke-width="1.15"/>
<line x1="111.12" y1="403.39" x2="116.53" y2="403.39" stroke="#161618" stroke-width="1.2"/>
<line x1="118.67" y1="419.69" x2="118.67" y2="413.35" stroke="#161618" stroke-width="1.15"/>
<line x1="115.97" y1="413.35" x2="121.38" y2="413.35" stroke="#161618" stroke-width="1.2"/>
<line x1="128.33" y1="392.52" x2="133.72" y2="392.52" stroke="#161618" stroke-width="1.2"/>
<line x1="135.88" y1="395.24" x2="135.88" y2="385.27" stroke="#161618" stroke-width="1.15"/>
<line x1="133.18" y1="385.27" x2="138.57" y2="385.27" stroke="#161618" stroke-width="1.2"/>
<line x1="140.72" y1="421.51" x2="140.72" y2="407.92" stroke="#161618" stroke-width="1.15"/>
<line x1="138.03" y1="407.92" x2="143.42" y2="407.92" stroke="#161618" stroke-width="1.2"/>
<line x1="145.58" y1="422.41" x2="145.58" y2="409.73" stroke="#161618" stroke-width="1.15"/>
<line x1="142.88" y1="409.73" x2="148.28" y2="409.73" stroke="#161618" stroke-width="1.2"/>
<line x1="43.4" y1="483.1" x2="152.5" y2="483.1" stroke="#333" stroke-width="1.3"/>
<line x1="71.4" y1="483.1" x2="71.4" y2="486.1" stroke="#333" stroke-width="1"/>
<line x1="98.3" y1="483.1" x2="98.3" y2="486.1" stroke="#333" stroke-width="1"/>
<line x1="125.2" y1="483.1" x2="125.2" y2="486.1" stroke="#333" stroke-width="1"/>
<line x1="152.1" y1="483.1" x2="152.1" y2="486.1" stroke="#333" stroke-width="1"/>
<text x="61.8" y="493.4" font-size="7.9" text-anchor="end" fill="#222" transform="rotate(-45 61.8 493.4)">Molm14</text>
<text x="88.5" y="493.4" font-size="7.9" text-anchor="end" fill="#222" transform="rotate(-45 88.5 493.4)">MV4-11</text>
<text x="115.2" y="493.4" font-size="7.9" text-anchor="end" fill="#222" transform="rotate(-45 115.2 493.4)">THP-1</text>
<text x="141.8" y="493.4" font-size="7.9" text-anchor="end" fill="#222" transform="rotate(-45 141.8 493.4)">NB4</text>
<rect x="149.9" y="385.85" width="5.5" height="5.5" fill="#64a2e0"/>
<text x="158.2" y="391.41" font-size="7.8" text-anchor="start" fill="#222">DMSO</text>
<rect x="149.9" y="395.75" width="5.5" height="5.5" fill="#a8042b"/>
<text x="158.2" y="401.31" font-size="7.8" text-anchor="start" fill="#222">Sor</text>
<rect x="149.9" y="405.45" width="5.5" height="5.5" fill="#afbd8e"/>
<text x="158.2" y="411.01" font-size="7.8" text-anchor="start" fill="#222">ATRA</text>
<rect x="149.9" y="415.35" width="5.5" height="5.5" fill="#8582c2"/>
<text x="158.2" y="420.91" font-size="7.8" text-anchor="start" fill="#222">Sor+ATRA</text>
<text x="213" y="420.2" font-size="11.5" text-anchor="start" font-weight="bold" fill="#111">H</text>
<text x="299.2" y="422.6" font-size="8.6" text-anchor="middle" font-weight="bold" fill="#111">Molm14</text>
<text x="397.6" y="420.6" font-size="8.6" text-anchor="middle" font-weight="bold" fill="#111">THP-1</text>
<line x1="247.8" y1="426.8" x2="338.3" y2="426.8" stroke="#111" stroke-width="2.2"/>
<line x1="347.6" y1="426.7" x2="438.5" y2="426.7" stroke="#111" stroke-width="2.2"/>
<text x="253.3" y="458" font-size="7" text-anchor="start" fill="#222" transform="rotate(-90 253.3 458)">NS</text>
<text x="262.3" y="458" font-size="7" text-anchor="start" fill="#222" transform="rotate(-90 262.3 458)">shRNA</text>
<text x="282.6" y="458" font-size="7" text-anchor="start" fill="#222" transform="rotate(-90 282.6 458)" textLength="20" lengthAdjust="spacingAndGlyphs">Bcl6_1</text>
<text x="305.4" y="458" font-size="7" text-anchor="start" fill="#222" transform="rotate(-90 305.4 458)" textLength="20" lengthAdjust="spacingAndGlyphs">Bcl6_2</text>
<text x="330.5" y="458" font-size="7" text-anchor="start" fill="#222" transform="rotate(-90 330.5 458)" textLength="20" lengthAdjust="spacingAndGlyphs">Bcl6_3</text>
<text x="356.5" y="458" font-size="7" text-anchor="start" fill="#222" transform="rotate(-90 356.5 458)">NS</text>
<text x="365.6" y="458" font-size="7" text-anchor="start" fill="#222" transform="rotate(-90 365.6 458)">shRNA</text>
<text x="384.6" y="458" font-size="7" text-anchor="start" fill="#222" transform="rotate(-90 384.6 458)" textLength="20" lengthAdjust="spacingAndGlyphs">Bcl6_1</text>
<text x="406.4" y="458" font-size="7" text-anchor="start" fill="#222" transform="rotate(-90 406.4 458)" textLength="20" lengthAdjust="spacingAndGlyphs">Bcl6_2</text>
<text x="430.2" y="458" font-size="7" text-anchor="start" fill="#222" transform="rotate(-90 430.2 458)" textLength="20" lengthAdjust="spacingAndGlyphs">Bcl6_3</text>
<clipPath id="c12"><rect x="243.8" y="462.7" width="100.6" height="14.1"/></clipPath>
<g clip-path="url(#c12)">
<linearGradient id="g12" x1="0" y1="0" x2="0" y2="1"><stop offset="0" stop-color="#9a9a9a"/><stop offset="0.5" stop-color="#adadad"/><stop offset="1" stop-color="#cacaca"/></linearGradient>
<rect x="243.8" y="462.7" width="100.6" height="14.1" fill="url(#g12)"/>
<g filter="url(#bl1)">
<rect x="245.3" y="464" width="21.1" height="5" rx="0" fill="#6a6a6a"/>
<rect x="245.3" y="467.2" width="21.1" height="7" rx="2" fill="#1e1e1e"/>
<rect x="268.6" y="462" width="22.2" height="7.5" rx="0" fill="#8e8e8e"/>
<rect x="268.6" y="469.5" width="22.2" height="8.5" rx="0" fill="#c4c4c4"/>
<rect x="270" y="466.5" width="19" height="6" rx="1" fill="#a6a6a6"/>
<rect x="292.9" y="462" width="20.1" height="7.5" rx="0" fill="#7e7e7e"/>
<rect x="292.9" y="469.5" width="20.1" height="8.5" rx="0" fill="#b2b2b2"/>
<rect x="294" y="466.5" width="18" height="6" rx="1" fill="#8e8e8e"/>
<rect x="315" y="462" width="25.5" height="7.5" rx="0" fill="#9a9a9a"/>
<rect x="315" y="469.5" width="25.5" height="8.5" rx="0" fill="#c6c6c6"/>
<rect x="318" y="468" width="14" height="6" rx="2" fill="#a0a0a0"/>
<rect x="266.6" y="462.7" width="1.8" height="14.1" fill="#f0f0f0"/>
<rect x="291" y="462.7" width="1.8" height="14.1" fill="#f0f0f0"/>
<rect x="313.2" y="462.7" width="1.8" height="14.1" fill="#f0f0f0"/>
<rect x="340.7" y="462.7" width="1.8" height="14.1" fill="#f0f0f0"/>
</g></g>
<rect x="243.8" y="462.7" width="100.6" height="14.1" fill="none" stroke="#111" stroke-width="1.3"/>
<clipPath id="c13"><rect x="243.8" y="479.9" width="100.6" height="18.3"/></clipPath>
<g clip-path="url(#c13)">
<rect x="243.8" y="479.9" width="100.6" height="18.3" fill="#e6e6e6"/>
<g filter="url(#bl1)">
<rect x="245" y="487" width="93.6" height="6.4" rx="3" fill="#080808"/>
</g></g>
<rect x="243.8" y="479.9" width="100.6" height="18.3" fill="none" stroke="#111" stroke-width="1.3"/>
<clipPath id="c14"><rect x="348.9" y="462.7" width="94.8" height="14.3"/></clipPath>
<g clip-path="url(#c14)">
<rect x="348.9" y="462.7" width="94.8" height="14.3" fill="#4e4e4e"/>
<g filter="url(#bl1)">
<rect x="349.5" y="464.5" width="20.1" height="7" rx="1" fill="#262626"/>
<rect x="372.2" y="464.5" width="19.6" height="7" rx="1" fill="#343434"/>
<rect x="394" y="464.5" width="19" height="7" rx="1" fill="#363636"/>
<rect x="415.7" y="464.5" width="27.3" height="7" rx="1" fill="#5a5a5a"/>
<rect x="349" y="471" width="95" height="7" rx="0" fill="#5e5e5e"/>
<rect x="418" y="466" width="20" height="8" rx="2" fill="#7a7a7a"/>
<rect x="369.8" y="462.7" width="2.2" height="14.3" fill="#d0d0d0"/>
<rect x="392" y="462.7" width="1.9" height="14.3" fill="#d0d0d0"/>
<rect x="413.2" y="462.7" width="2.3" height="14.3" fill="#d0d0d0"/>
</g></g>
<rect x="348.9" y="462.7" width="94.8" height="14.3" fill="none" stroke="#111" stroke-width="1.3"/>
<clipPath id="c15"><rect x="348.9" y="480" width="94.8" height="18.2"/></clipPath>
<g clip-path="url(#c15)">
<rect x="348.9" y="480" width="94.8" height="18.2" fill="#e6e6e6"/>
<g filter="url(#bl1)">
<rect x="350.2" y="487" width="91.4" height="6.4" rx="3" fill="#0a0a0a"/>
<rect x="415" y="485.6" width="25" height="2.4" rx="2" fill="#1a1a1a"/>
</g></g>
<rect x="348.9" y="480" width="94.8" height="18.2" fill="none" stroke="#111" stroke-width="1.3"/>
<text x="232.6" y="480.6" font-size="7.2" text-anchor="end" fill="#222">76 kD</text>
<line x1="236.3" y1="478.2" x2="242.2" y2="478.2" stroke="#111" stroke-width="1.3"/>
<text x="232.6" y="492.6" font-size="7.2" text-anchor="end" fill="#222">52 kD</text>
<line x1="236.3" y1="490" x2="242.2" y2="490" stroke="#111" stroke-width="1.3"/>
<text x="446.8" y="472.6" font-size="8.6" text-anchor="start" fill="#222">Bcl6</text>
<text x="446.8" y="493.6" font-size="8.6" text-anchor="start" fill="#222">β-tubulin</text>
<text x="253" y="507.4" font-size="7.4" text-anchor="middle" fill="#222">1</text>
<text x="278" y="507.4" font-size="7.4" text-anchor="middle" fill="#222">0.14</text>
<text x="299.3" y="507.4" font-size="7.4" text-anchor="middle" fill="#222">0.20</text>
<text x="319.8" y="507.4" font-size="7.4" text-anchor="middle" fill="#222">0.16</text>
<text x="359.8" y="507.4" font-size="7.4" text-anchor="middle" fill="#222">1</text>
<text x="378.7" y="507.4" font-size="7.4" text-anchor="middle" fill="#222">0.57</text>
<text x="401.2" y="507.4" font-size="7.4" text-anchor="middle" fill="#222">0.28</text>
<text x="422.5" y="507.4" font-size="7.4" text-anchor="middle" fill="#222">0.41</text>
<text x="7.4" y="539.5" font-size="11.5" text-anchor="start" font-weight="bold" fill="#111">I</text>
<text x="94.1" y="555" font-size="9.8" text-anchor="middle" font-weight="bold" fill="#111">Molm14</text>
<text x="237.1" y="554.8" font-size="9.6" text-anchor="middle" font-weight="bold" fill="#111">THP-1</text>
<text x="16.9" y="613.2" font-size="9" text-anchor="middle" fill="#222" transform="rotate(-90 16.9 613.2)">Annexin V + (%)</text>
<line x1="44.1" y1="566.3" x2="44.1" y2="660" stroke="#333" stroke-width="1.3"/>
<line x1="41.1" y1="659.5" x2="44.1" y2="659.5" stroke="#333" stroke-width="1"/>
<text x="37.4" y="662.45" font-size="8.2" text-anchor="end" fill="#222">0</text>
<line x1="41.1" y1="650.5" x2="44.1" y2="650.5" stroke="#333" stroke-width="1"/>
<text x="37.4" y="653.45" font-size="8.2" text-anchor="end" fill="#222">10</text>
<line x1="41.1" y1="641.5" x2="44.1" y2="641.5" stroke="#333" stroke-width="1"/>
<text x="37.4" y="644.45" font-size="8.2" text-anchor="end" fill="#222">20</text>
<line x1="41.1" y1="632.5" x2="44.1" y2="632.5" stroke="#333" stroke-width="1"/>
<text x="37.4" y="635.45" font-size="8.2" text-anchor="end" fill="#222">30</text>
<line x1="41.1" y1="623.5" x2="44.1" y2="623.5" stroke="#333" stroke-width="1"/>
<text x="37.4" y="626.45" font-size="8.2" text-anchor="end" fill="#222">40</text>
<line x1="41.1" y1="614.5" x2="44.1" y2="614.5" stroke="#333" stroke-width="1"/>
<text x="37.4" y="617.45" font-size="8.2" text-anchor="end" fill="#222">50</text>
<line x1="41.1" y1="605.5" x2="44.1" y2="605.5" stroke="#333" stroke-width="1"/>
<text x="37.4" y="608.45" font-size="8.2" text-anchor="end" fill="#222">60</text>
<line x1="41.1" y1="596.5" x2="44.1" y2="596.5" stroke="#333" stroke-width="1"/>
<text x="37.4" y="599.45" font-size="8.2" text-anchor="end" fill="#222">70</text>
<line x1="41.1" y1="587.5" x2="44.1" y2="587.5" stroke="#333" stroke-width="1"/>
<text x="37.4" y="590.45" font-size="8.2" text-anchor="end" fill="#222">80</text>
<line x1="41.1" y1="578.5" x2="44.1" y2="578.5" stroke="#333" stroke-width="1"/>
<text x="37.4" y="581.45" font-size="8.2" text-anchor="end" fill="#222">90</text>
<line x1="41.1" y1="569.5" x2="44.1" y2="569.5" stroke="#333" stroke-width="1"/>
<text x="37.4" y="572.45" font-size="8.2" text-anchor="end" fill="#222">100</text>
<rect x="47" y="650.5" width="4.75" height="9" fill="#a8042b"/>
<rect x="51.75" y="648.7" width="4.75" height="10.8" fill="#8582c2"/>
<rect x="56.5" y="646" width="4.75" height="13.5" fill="#64a2e0"/>
<rect x="61.25" y="646.9" width="4.75" height="12.6" fill="#afbd8e"/>
<rect x="72" y="600.1" width="4.75" height="59.4" fill="#a8042b"/>
<rect x="76.75" y="588.4" width="4.75" height="71.1" fill="#8582c2"/>
<rect x="81.5" y="581.2" width="4.75" height="78.3" fill="#64a2e0"/>
<rect x="86.25" y="579.4" width="4.75" height="80.1" fill="#afbd8e"/>
<rect x="97" y="637" width="4.75" height="22.5" fill="#a8042b"/>
<rect x="101.75" y="642.4" width="4.75" height="17.1" fill="#8582c2"/>
<rect x="106.5" y="640.6" width="4.75" height="18.9" fill="#64a2e0"/>
<rect x="111.25" y="641.5" width="4.75" height="18" fill="#afbd8e"/>
<rect x="122" y="578.5" width="4.75" height="81" fill="#a8042b"/>
<rect x="126.75" y="579.4" width="4.75" height="80.1" fill="#8582c2"/>
<rect x="131.5" y="576.7" width="4.75" height="82.8" fill="#64a2e0"/>
<rect x="136.25" y="577.6" width="4.75" height="81.9" fill="#afbd8e"/>
<line x1="49.38" y1="650.5" x2="49.38" y2="649.15" stroke="#161618" stroke-width="1.15"/>
<line x1="46.67" y1="649.15" x2="52.08" y2="649.15" stroke="#161618" stroke-width="1.2"/>
<line x1="54.12" y1="648.7" x2="54.12" y2="648.25" stroke="#161618" stroke-width="1.15"/>
<line x1="51.42" y1="648.25" x2="56.83" y2="648.25" stroke="#161618" stroke-width="1.2"/>
<line x1="58.88" y1="646" x2="58.88" y2="644.65" stroke="#161618" stroke-width="1.15"/>
<line x1="56.17" y1="644.65" x2="61.58" y2="644.65" stroke="#161618" stroke-width="1.2"/>
<line x1="63.62" y1="646.9" x2="63.62" y2="646" stroke="#161618" stroke-width="1.15"/>
<line x1="60.92" y1="646" x2="66.33" y2="646" stroke="#161618" stroke-width="1.2"/>
<line x1="74.38" y1="600.1" x2="74.38" y2="598.3" stroke="#161618" stroke-width="1.15"/>
<line x1="71.67" y1="598.3" x2="77.08" y2="598.3" stroke="#161618" stroke-width="1.2"/>
<line x1="79.12" y1="588.4" x2="79.12" y2="587.5" stroke="#161618" stroke-width="1.15"/>
<line x1="76.42" y1="587.5" x2="81.83" y2="587.5" stroke="#161618" stroke-width="1.2"/>
<line x1="83.88" y1="581.2" x2="83.88" y2="580.3" stroke="#161618" stroke-width="1.15"/>
<line x1="81.17" y1="580.3" x2="86.58" y2="580.3" stroke="#161618" stroke-width="1.2"/>
<line x1="88.62" y1="579.4" x2="88.62" y2="578.5" stroke="#161618" stroke-width="1.15"/>
<line x1="85.92" y1="578.5" x2="91.33" y2="578.5" stroke="#161618" stroke-width="1.2"/>
<line x1="99.38" y1="637" x2="99.38" y2="634.3" stroke="#161618" stroke-width="1.15"/>
<line x1="96.67" y1="634.3" x2="102.08" y2="634.3" stroke="#161618" stroke-width="1.2"/>
<line x1="104.12" y1="642.4" x2="104.12" y2="641.95" stroke="#161618" stroke-width="1.15"/>
<line x1="101.42" y1="641.95" x2="106.83" y2="641.95" stroke="#161618" stroke-width="1.2"/>
<line x1="108.88" y1="640.6" x2="108.88" y2="638.35" stroke="#161618" stroke-width="1.15"/>
<line x1="106.17" y1="638.35" x2="111.58" y2="638.35" stroke="#161618" stroke-width="1.2"/>
<line x1="113.62" y1="641.5" x2="113.62" y2="640.6" stroke="#161618" stroke-width="1.15"/>
<line x1="110.92" y1="640.6" x2="116.33" y2="640.6" stroke="#161618" stroke-width="1.2"/>
<line x1="124.38" y1="578.5" x2="124.38" y2="578.05" stroke="#161618" stroke-width="1.15"/>
<line x1="121.67" y1="578.05" x2="127.08" y2="578.05" stroke="#161618" stroke-width="1.2"/>
<line x1="129.12" y1="579.4" x2="129.12" y2="578.95" stroke="#161618" stroke-width="1.15"/>
<line x1="126.42" y1="578.95" x2="131.82" y2="578.95" stroke="#161618" stroke-width="1.2"/>
<line x1="133.88" y1="576.7" x2="133.88" y2="574.45" stroke="#161618" stroke-width="1.15"/>
<line x1="131.18" y1="574.45" x2="136.57" y2="574.45" stroke="#161618" stroke-width="1.2"/>
<line x1="138.62" y1="577.6" x2="138.62" y2="576.7" stroke="#161618" stroke-width="1.15"/>
<line x1="135.93" y1="576.7" x2="141.32" y2="576.7" stroke="#161618" stroke-width="1.2"/>
<line x1="43.5" y1="659.5" x2="144.5" y2="659.5" stroke="#333" stroke-width="1.3"/>
<polyline points="74.1,593 74.1,567.9 82,567.9 82,574.4" fill="none" stroke="#2a2a2a" stroke-width="1.2"/>
<line x1="77.9" y1="574.4" x2="87.7" y2="574.4" stroke="#2a2a2a" stroke-width="1.2"/>
<text x="78.5" y="567.3" font-size="8" font-weight="bold" text-anchor="middle" letter-spacing="1" fill="#111">**</text>
<text x="61.1" y="666.3" font-size="8.2" text-anchor="end" fill="#222" transform="rotate(-45 61.1 666.3)">DMSO</text>
<text x="86.3" y="666.3" font-size="8.2" text-anchor="end" fill="#222" transform="rotate(-45 86.3 666.3)">Sor (20 nM)</text>
<text x="111.1" y="666.3" font-size="8.2" text-anchor="end" fill="#222" transform="rotate(-45 111.1 666.3)">ATRA (100 nM)</text>
<text x="136.3" y="666.3" font-size="8.2" text-anchor="end" fill="#222" transform="rotate(-45 136.3 666.3)">Sor+ATRA</text>
<line x1="179.5" y1="567.2" x2="179.5" y2="660.1" stroke="#333" stroke-width="1.3"/>
<line x1="176.5" y1="659.6" x2="179.5" y2="659.6" stroke="#333" stroke-width="1"/>
<text x="172.6" y="662.55" font-size="8.2" text-anchor="end" fill="#222">0</text>
<line x1="176.5" y1="650.69" x2="179.5" y2="650.69" stroke="#333" stroke-width="1"/>
<text x="172.6" y="653.64" font-size="8.2" text-anchor="end" fill="#222">10</text>
<line x1="176.5" y1="641.78" x2="179.5" y2="641.78" stroke="#333" stroke-width="1"/>
<text x="172.6" y="644.73" font-size="8.2" text-anchor="end" fill="#222">20</text>
<line x1="176.5" y1="632.87" x2="179.5" y2="632.87" stroke="#333" stroke-width="1"/>
<text x="172.6" y="635.82" font-size="8.2" text-anchor="end" fill="#222">30</text>
<line x1="176.5" y1="623.96" x2="179.5" y2="623.96" stroke="#333" stroke-width="1"/>
<text x="172.6" y="626.91" font-size="8.2" text-anchor="end" fill="#222">40</text>
<line x1="176.5" y1="615.05" x2="179.5" y2="615.05" stroke="#333" stroke-width="1"/>
<text x="172.6" y="618" font-size="8.2" text-anchor="end" fill="#222">50</text>
<line x1="176.5" y1="606.14" x2="179.5" y2="606.14" stroke="#333" stroke-width="1"/>
<text x="172.6" y="609.09" font-size="8.2" text-anchor="end" fill="#222">60</text>
<line x1="176.5" y1="597.23" x2="179.5" y2="597.23" stroke="#333" stroke-width="1"/>
<text x="172.6" y="600.18" font-size="8.2" text-anchor="end" fill="#222">70</text>
<line x1="176.5" y1="588.32" x2="179.5" y2="588.32" stroke="#333" stroke-width="1"/>
<text x="172.6" y="591.27" font-size="8.2" text-anchor="end" fill="#222">80</text>
<line x1="176.5" y1="579.41" x2="179.5" y2="579.41" stroke="#333" stroke-width="1"/>
<text x="172.6" y="582.36" font-size="8.2" text-anchor="end" fill="#222">90</text>
<line x1="176.5" y1="570.5" x2="179.5" y2="570.5" stroke="#333" stroke-width="1"/>
<text x="172.6" y="573.45" font-size="8.2" text-anchor="end" fill="#222">100</text>
<rect x="183.3" y="638.66" width="5.2" height="20.94" fill="#a8042b"/>
<rect x="188.5" y="639.55" width="5.2" height="20.05" fill="#8582c2"/>
<rect x="193.7" y="638.66" width="5.2" height="20.94" fill="#64a2e0"/>
<rect x="198.9" y="640.44" width="5.2" height="19.16" fill="#afbd8e"/>
<rect x="212" y="640.44" width="5.2" height="19.16" fill="#a8042b"/>
<rect x="217.2" y="640.44" width="5.2" height="19.16" fill="#8582c2"/>
<rect x="222.4" y="640" width="5.2" height="19.6" fill="#64a2e0"/>
<rect x="227.6" y="643.12" width="5.2" height="16.48" fill="#afbd8e"/>
<rect x="240.8" y="635.54" width="5.2" height="24.06" fill="#a8042b"/>
<rect x="246" y="632.87" width="5.2" height="26.73" fill="#8582c2"/>
<rect x="251.2" y="631.09" width="5.2" height="28.51" fill="#64a2e0"/>
<rect x="256.4" y="636.43" width="5.2" height="23.17" fill="#afbd8e"/>
<rect x="269.6" y="634.65" width="5.2" height="24.95" fill="#a8042b"/>
<rect x="274.8" y="636.43" width="5.2" height="23.17" fill="#8582c2"/>
<rect x="280" y="634.65" width="5.2" height="24.95" fill="#64a2e0"/>
<rect x="285.2" y="638.66" width="5.2" height="20.94" fill="#afbd8e"/>
<line x1="185.9" y1="638.66" x2="185.9" y2="638.22" stroke="#161618" stroke-width="1.15"/>
<line x1="183.2" y1="638.22" x2="188.6" y2="638.22" stroke="#161618" stroke-width="1.2"/>
<line x1="191.1" y1="639.55" x2="191.1" y2="639.11" stroke="#161618" stroke-width="1.15"/>
<line x1="188.4" y1="639.11" x2="193.8" y2="639.11" stroke="#161618" stroke-width="1.2"/>
<line x1="196.3" y1="638.66" x2="196.3" y2="636.88" stroke="#161618" stroke-width="1.15"/>
<line x1="193.6" y1="636.88" x2="199" y2="636.88" stroke="#161618" stroke-width="1.2"/>
<line x1="201.5" y1="640.44" x2="201.5" y2="639.55" stroke="#161618" stroke-width="1.15"/>
<line x1="198.8" y1="639.55" x2="204.2" y2="639.55" stroke="#161618" stroke-width="1.2"/>
<line x1="214.6" y1="640.44" x2="214.6" y2="639.55" stroke="#161618" stroke-width="1.15"/>
<line x1="211.9" y1="639.55" x2="217.3" y2="639.55" stroke="#161618" stroke-width="1.2"/>
<line x1="219.8" y1="640.44" x2="219.8" y2="639.55" stroke="#161618" stroke-width="1.15"/>
<line x1="217.1" y1="639.55" x2="222.5" y2="639.55" stroke="#161618" stroke-width="1.2"/>
<line x1="225" y1="640" x2="225" y2="636.88" stroke="#161618" stroke-width="1.15"/>
<line x1="222.3" y1="636.88" x2="227.7" y2="636.88" stroke="#161618" stroke-width="1.2"/>
<line x1="230.2" y1="643.12" x2="230.2" y2="642.23" stroke="#161618" stroke-width="1.15"/>
<line x1="227.5" y1="642.23" x2="232.9" y2="642.23" stroke="#161618" stroke-width="1.2"/>
<line x1="243.4" y1="635.54" x2="243.4" y2="632.87" stroke="#161618" stroke-width="1.15"/>
<line x1="240.7" y1="632.87" x2="246.1" y2="632.87" stroke="#161618" stroke-width="1.2"/>
<line x1="248.6" y1="632.87" x2="248.6" y2="631.98" stroke="#161618" stroke-width="1.15"/>
<line x1="245.9" y1="631.98" x2="251.3" y2="631.98" stroke="#161618" stroke-width="1.2"/>
<line x1="253.8" y1="631.09" x2="253.8" y2="628.86" stroke="#161618" stroke-width="1.15"/>
<line x1="251.1" y1="628.86" x2="256.5" y2="628.86" stroke="#161618" stroke-width="1.2"/>
<line x1="259" y1="636.43" x2="259" y2="635.54" stroke="#161618" stroke-width="1.15"/>
<line x1="256.3" y1="635.54" x2="261.7" y2="635.54" stroke="#161618" stroke-width="1.2"/>
<line x1="272.2" y1="634.65" x2="272.2" y2="633.32" stroke="#161618" stroke-width="1.15"/>
<line x1="269.5" y1="633.32" x2="274.9" y2="633.32" stroke="#161618" stroke-width="1.2"/>
<line x1="277.4" y1="636.43" x2="277.4" y2="635.99" stroke="#161618" stroke-width="1.15"/>
<line x1="274.7" y1="635.99" x2="280.1" y2="635.99" stroke="#161618" stroke-width="1.2"/>
<line x1="282.6" y1="634.65" x2="282.6" y2="633.32" stroke="#161618" stroke-width="1.15"/>
<line x1="279.9" y1="633.32" x2="285.3" y2="633.32" stroke="#161618" stroke-width="1.2"/>
<line x1="287.8" y1="638.66" x2="287.8" y2="637.77" stroke="#161618" stroke-width="1.15"/>
<line x1="285.1" y1="637.77" x2="290.5" y2="637.77" stroke="#161618" stroke-width="1.2"/>
<line x1="178.9" y1="659.6" x2="297" y2="659.6" stroke="#333" stroke-width="1.3"/>
<text x="198" y="666.6" font-size="8.2" text-anchor="end" fill="#222" transform="rotate(-45 198 666.6)">DMSO</text>
<text x="228" y="666.6" font-size="8.2" text-anchor="end" fill="#222" transform="rotate(-45 228 666.6)">Sor (20 nM)</text>
<text x="257" y="666.6" font-size="8.2" text-anchor="end" fill="#222" transform="rotate(-45 257 666.6)">ATRA (100 nM)</text>
<text x="285.8" y="666.6" font-size="8.2" text-anchor="end" fill="#222" transform="rotate(-45 285.8 666.6)">Sor+ATRA</text>
<rect x="235.3" y="570.9" width="5.4" height="5.4" fill="#a8042b"/>
<text x="243.8" y="576.48" font-size="8" text-anchor="start" fill="#222">NS shRNA</text>
<rect x="235.3" y="582.6" width="5.4" height="5.4" fill="#8582c2"/>
<text x="243.8" y="588.18" font-size="8" text-anchor="start" fill="#222">Bcl6_1 shRNA</text>
<rect x="235.3" y="594.5" width="5.4" height="5.4" fill="#64a2e0"/>
<text x="243.8" y="600.08" font-size="8" text-anchor="start" fill="#222">Bcl6_2 shRNA</text>
<rect x="235.3" y="605.9" width="5.4" height="5.4" fill="#afbd8e"/>
<text x="243.8" y="611.48" font-size="8" text-anchor="start" fill="#222">Bcl6_3 shRNA</text>
<rect x="0.5" y="0.5" width="519" height="713" fill="none" stroke="#1a1a1a" stroke-width="1.2"/>
</svg>
</body></html>
